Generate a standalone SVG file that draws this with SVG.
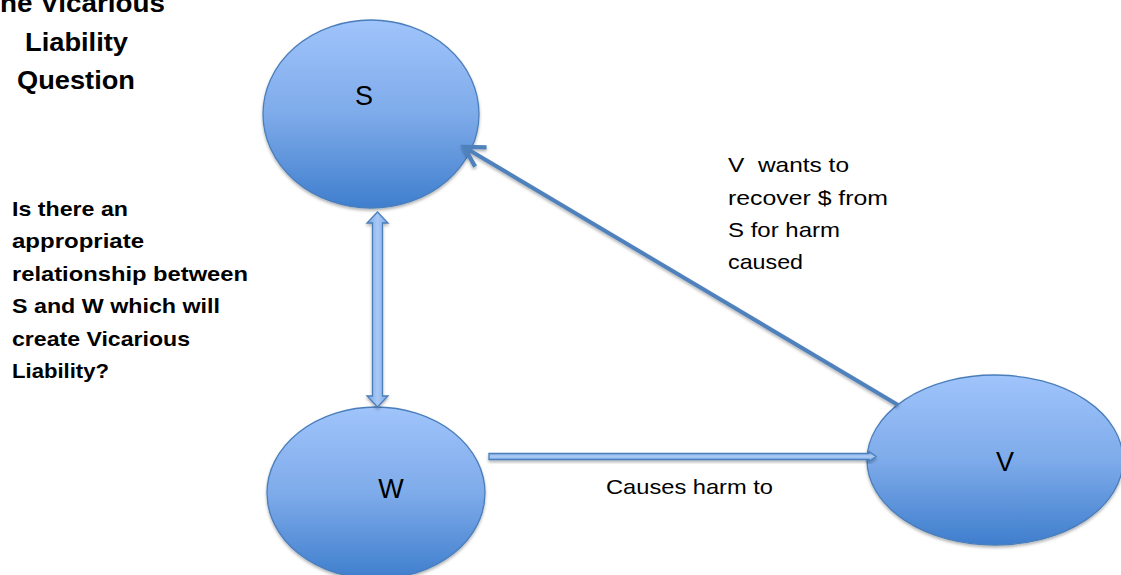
<svg xmlns="http://www.w3.org/2000/svg" width="1121" height="575" viewBox="0 0 1121 575">
<style>
.node{stroke:#4a7ebb;stroke-width:1.3;fill:url(#g)}
.lbl{font-family:"Liberation Sans",Arial,sans-serif;font-size:27px;fill:#000;text-anchor:middle}
.bold{font-family:"Liberation Sans",Arial,sans-serif;font-weight:bold;fill:#000}
.reg{font-family:"Liberation Sans",Arial,sans-serif;fill:#000}
.ln{stroke:#4f81bd;stroke-width:4;fill:none}
.blk{fill:url(#ag);stroke:#4a7ebb;stroke-width:1.3}
</style>
<defs>
<linearGradient id="g" x1="0" y1="0" x2="0" y2="1">
<stop offset="0" stop-color="#a0c4fb"/>
<stop offset="0.5" stop-color="#7eabea"/>
<stop offset="1" stop-color="#3f7ecd"/>
</linearGradient>
<linearGradient id="ag" x1="0" y1="0" x2="1" y2="0">
<stop offset="0" stop-color="#7aa8e6"/>
<stop offset="0.5" stop-color="#a9c9f5"/>
<stop offset="1" stop-color="#7aa8e6"/>
</linearGradient>
<linearGradient id="hg" x1="0" y1="0" x2="0" y2="1">
<stop offset="0" stop-color="#7aa8e6"/>
<stop offset="0.5" stop-color="#a9c9f5"/>
<stop offset="1" stop-color="#7aa8e6"/>
</linearGradient>
<filter id="sh" x="-20%" y="-20%" width="140%" height="140%">
<feDropShadow dx="0" dy="2" stdDeviation="1.5" flood-color="#000" flood-opacity="0.3"/>
</filter>
<marker id="open" viewBox="0 0 20 20" refX="16" refY="10" markerWidth="7" markerHeight="7" markerUnits="strokeWidth" orient="auto">
<path d="M2,2 L16,10 L2,18" fill="none" stroke="#4f81bd" stroke-width="3"/>
</marker>
</defs>

<g id="title">
<text class="bold" font-size="26" x="-17" y="12" textLength="182" lengthAdjust="spacingAndGlyphs">The Vicarious</text>
<text class="bold" font-size="26" x="25" y="51" textLength="103" lengthAdjust="spacingAndGlyphs">Liability</text>
<text class="bold" font-size="26" x="17" y="89" textLength="118" lengthAdjust="spacingAndGlyphs">Question</text>
</g>

<g id="node-S">
<ellipse class="node" cx="371" cy="114" rx="108" ry="94" filter="url(#sh)"/>
<text class="lbl" x="364" y="105">S</text>
</g>
<g id="node-W">
<ellipse class="node" cx="376" cy="493" rx="109" ry="86" filter="url(#sh)"/>
<text class="lbl" x="391" y="498">W</text>
</g>
<g id="node-V">
<ellipse class="node" cx="995" cy="460" rx="128" ry="85" filter="url(#sh)"/>
<text class="lbl" x="1005" y="471">V</text>
</g>

<g id="connectors">
<line class="ln" x1="898" y1="405" x2="464" y2="147" marker-end="url(#open)" filter="url(#sh)"/>
<path class="blk" d="M377.5,212 L388,223 L382.5,223 L382.5,396 L388,396 L377.5,407 L367,396 L372.5,396 L372.5,223 L367,223 Z" filter="url(#sh)"/>
<path d="M489,453.5 L869,453.5 L869,451.5 L876,456.5 L869,461.5 L869,459.5 L489,459.5 Z" fill="url(#hg)" stroke="#4a7ebb" stroke-width="1.3" filter="url(#sh)"/>
<line class="ln" x1="200" y1="366" x2="368" y2="366" filter="url(#sh)"/>
</g>

<g id="labels">
<text class="reg" font-size="21" x="728" y="172" textLength="121" lengthAdjust="spacingAndGlyphs" xml:space="preserve">V  wants to</text>
<text class="reg" font-size="21" x="728" y="205" textLength="160" lengthAdjust="spacingAndGlyphs">recover $ from</text>
<text class="reg" font-size="21" x="728" y="237" textLength="112" lengthAdjust="spacingAndGlyphs">S for harm</text>
<text class="reg" font-size="21" x="728" y="269" textLength="75" lengthAdjust="spacingAndGlyphs">caused</text>
<text class="reg" font-size="21" x="606" y="494" textLength="167" lengthAdjust="spacingAndGlyphs">Causes harm to</text>
<text class="bold" font-size="21" x="12" y="216" textLength="116" lengthAdjust="spacingAndGlyphs">Is there an</text>
<text class="bold" font-size="21" x="12" y="248" textLength="132" lengthAdjust="spacingAndGlyphs">appropriate</text>
<text class="bold" font-size="21" x="12" y="281" textLength="236" lengthAdjust="spacingAndGlyphs">relationship between</text>
<text class="bold" font-size="21" x="12" y="313" textLength="208" lengthAdjust="spacingAndGlyphs">S and W which will</text>
<text class="bold" font-size="21" x="12" y="346" textLength="178" lengthAdjust="spacingAndGlyphs">create Vicarious</text>
<text class="bold" font-size="21" x="12" y="378" textLength="97" lengthAdjust="spacingAndGlyphs">Liability?</text>
</g>
</svg>
